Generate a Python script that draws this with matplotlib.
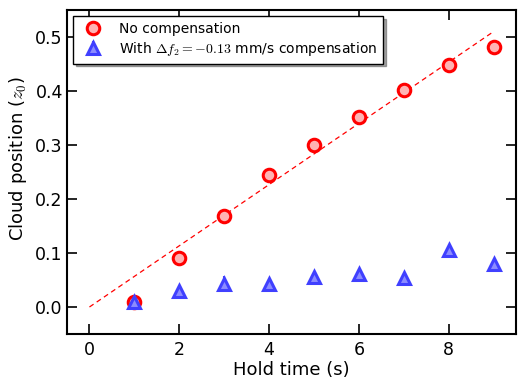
import matplotlib
matplotlib.use("Agg")
import matplotlib.pyplot as plt
import numpy as np

plt.rcParams['mathtext.fontset'] = 'cm'
plt.rcParams['font.family'] = ['DejaVu Sans']

hold_time = [1, 2, 3, 4, 5, 6, 7, 8, 9]
no_comp = [0.009, 0.091, 0.169, 0.244, 0.300, 0.351, 0.401, 0.449, 0.482]
no_comp_err = [0.004, 0.004, 0.008, 0.004, 0.004, 0.004, 0.004, 0.006, 0.004]
with_comp = [0.009, 0.029, 0.043, 0.043, 0.055, 0.062, 0.054, 0.105, 0.080]
with_comp_err = [0.004, 0.004, 0.014, 0.004, 0.004, 0.006, 0.004, 0.004, 0.004]
fit_x = [0, 9]
fit_y = [0.0, 0.51]

fig = plt.figure(figsize=(5.18, 3.79), dpi=100)
ax = fig.add_axes([67/518, 45/379, (516-67)/518, (334-10)/379])

ax.plot(fit_x, fit_y, '--', color='red', lw=0.9, dashes=(4, 3))
ax.errorbar(hold_time, no_comp, yerr=no_comp_err, fmt='o', ms=9, mew=2.2,
            mec='red', mfc=(1, 0.7, 0.7), color='red', ecolor='red', elinewidth=1.5,
            capsize=0, label='No compensation')
ax.errorbar(hold_time, with_comp, yerr=with_comp_err, fmt='^', ms=9, mew=2.2,
            mec=(0.25, 0.25, 1), mfc=(0.55, 0.55, 1), color=(0.25, 0.25, 1),
            ecolor=(0.25, 0.25, 1), elinewidth=1.5, capsize=0,
            label=r'With $\Delta f_2 = -0.13$ mm/s compensation')

ax.set_xlim(-0.5, 9.5)
ax.set_ylim(-0.05, 0.55)
ax.set_xticks([0, 2, 4, 6, 8])
ax.set_yticks([0.0, 0.1, 0.2, 0.3, 0.4, 0.5])
ax.tick_params(direction='in', top=True, right=True, length=7, width=1.2,
               labelsize=12.5)
ax.tick_params(axis='x', pad=5)
ax.tick_params(axis='y', pad=3)
for s in ax.spines.values():
    s.set_linewidth(1.5)
ax.set_xlabel('Hold time (s)', fontsize=13, labelpad=1.5)
ax.set_ylabel('Cloud position ($z_0$)', fontsize=13)
ax.yaxis.set_label_coords(-0.085, 0.54)

leg = ax.legend(loc='upper left', numpoints=1, fontsize=10, shadow=True,
                fancybox=False, framealpha=1, edgecolor='black',
                borderaxespad=0.45, handletextpad=0.9, borderpad=0.4,
                labelspacing=0.3)
leg.get_frame().set_linewidth(1.0)

fig.savefig('out.png', dpi=100)
